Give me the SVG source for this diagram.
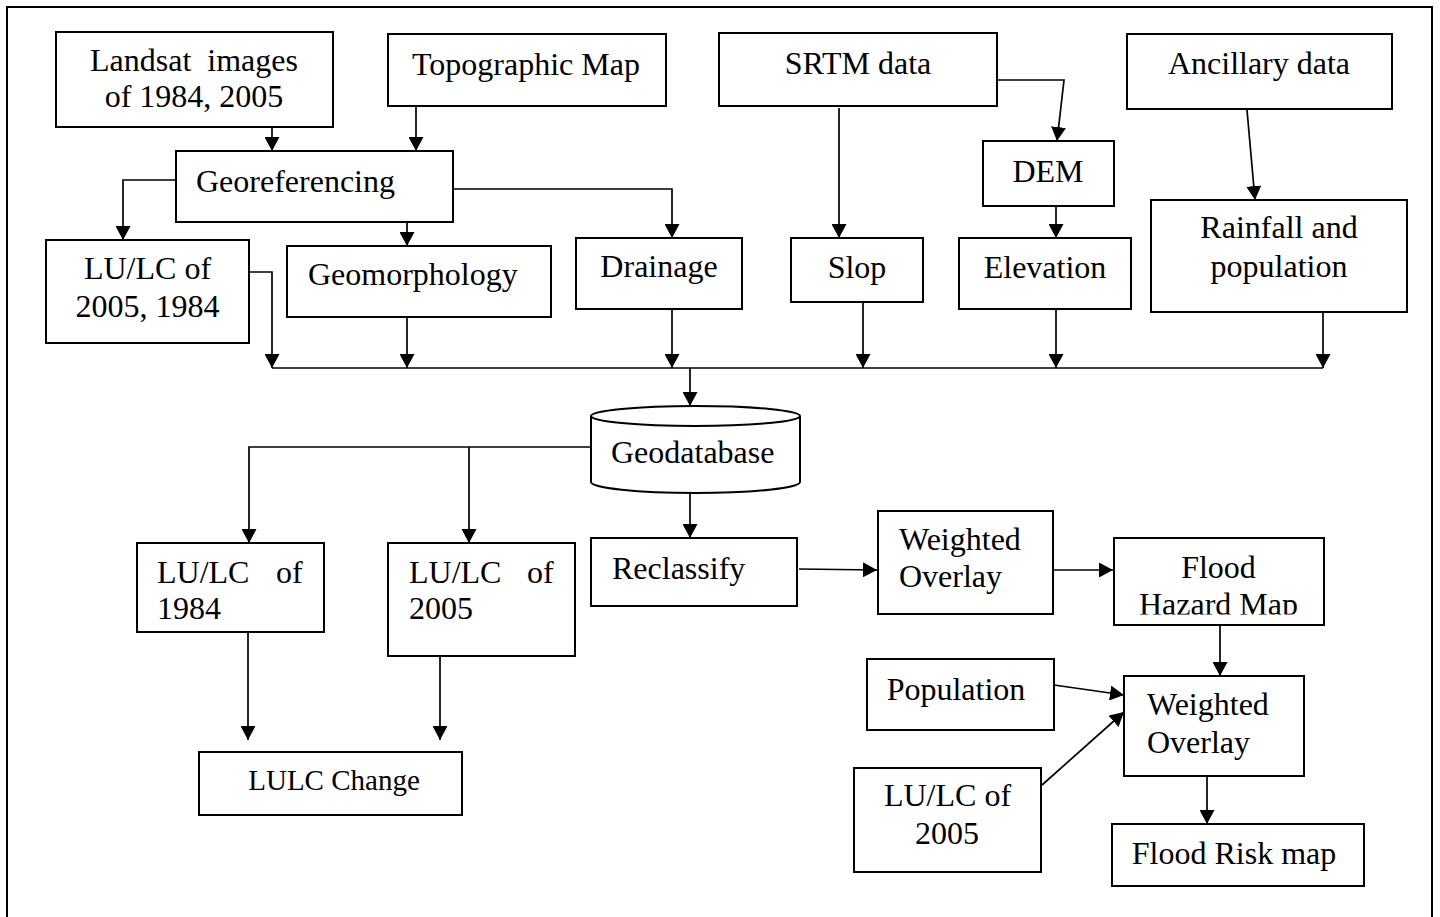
<svg xmlns="http://www.w3.org/2000/svg" width="1440" height="917" viewBox="0 0 1440 917">
<style>
.box{fill:#fff;stroke:#000;stroke-width:2}
.t{font-family:"Liberation Serif","Times New Roman",serif;font-size:32px;fill:#000}
.c{text-anchor:middle}
.ln{fill:none;stroke:#000;stroke-width:1.7}
.ar{marker-end:url(#ah)}
</style>
<defs>
<marker id="ah" markerUnits="userSpaceOnUse" markerWidth="14" markerHeight="15" viewBox="0 0 14 15" refX="14" refY="7.5" orient="auto">
<path d="M0,0 L14,7.5 L0,15 z" fill="#000"/>
</marker>
<clipPath id="fhmclip"><rect x="1114" y="538" width="210" height="76.5"/></clipPath>
</defs>
<rect x="0" y="0" width="1440" height="917" fill="#fff"/>
<path d="M7,917 V7 H1432 V917" fill="none" stroke="#000" stroke-width="2"/>

<g id="connectors">
<path class="ln ar" d="M272,127 V151"/>
<path class="ln ar" d="M416,103 V151"/>
<path class="ln ar" d="M176,180 H123 V240"/>
<path class="ln ar" d="M407,222 V246"/>
<path class="ln ar" d="M453,189 H672 V238"/>
<path class="ln ar" d="M839,108 V238"/>
<path class="ln ar" d="M992,80 H1064 L1057,141"/>
<path class="ln ar" d="M1056,206 V238"/>
<path class="ln ar" d="M1247,110 L1255,200"/>
<path class="ln ar" d="M247,272 H272 V368"/>
<path class="ln ar" d="M407,317 V368"/>
<path class="ln ar" d="M672,302 V368"/>
<path class="ln ar" d="M863,302 V368"/>
<path class="ln ar" d="M1056,302 V368"/>
<path class="ln ar" d="M1323,312 V368"/>
<path class="ln" d="M272,368 H1323"/>
<path class="ln ar" d="M690,368 V406"/>
<path class="ln ar" d="M595,447 H249 V543"/>
<path class="ln ar" d="M469,447 V543"/>
<path class="ln ar" d="M690,493 V538"/>
<path class="ln ar" d="M248,632 V740"/>
<path class="ln ar" d="M440,656 V740"/>
<path class="ln ar" d="M799,569 L877,570"/>
<path class="ln ar" d="M1053,570 H1113"/>
<path class="ln ar" d="M1220,625 V676"/>
<path class="ln ar" d="M1054,685 L1124,695"/>
<path class="ln ar" d="M1042,785 L1124,712"/>
<path class="ln ar" d="M1207,776 V824"/>
</g>

<g id="landsat">
<rect class="box" x="56" y="32" width="277" height="95"/>
<text class="t c" xml:space="preserve" x="194" y="71">Landsat  images</text>
<text class="t c" x="194" y="107">of 1984, 2005</text>
</g>
<g id="topo">
<rect class="box" x="388" y="34" width="278" height="72"/>
<text class="t c" x="526" y="75">Topographic Map</text>
</g>
<g id="srtm">
<rect class="box" x="719" y="33" width="278" height="73"/>
<text class="t c" x="858" y="74">SRTM data</text>
</g>
<g id="ancillary">
<rect class="box" x="1127" y="34" width="265" height="75"/>
<text class="t c" x="1259" y="74">Ancillary data</text>
</g>
<g id="georef">
<rect class="box" x="176" y="151" width="277" height="71"/>
<text class="t" x="196" y="192">Georeferencing</text>
</g>
<g id="dem">
<rect class="box" x="983" y="141" width="131" height="65"/>
<text class="t c" x="1048" y="182">DEM</text>
</g>
<g id="lulc-both">
<rect class="box" x="46" y="240" width="203" height="103"/>
<text class="t c" x="147.5" y="279">LU/LC of</text>
<text class="t c" x="147.5" y="317">2005, 1984</text>
</g>
<g id="geomorph">
<rect class="box" x="287" y="246" width="264" height="71"/>
<text class="t" x="308" y="285">Geomorphology</text>
</g>
<g id="drainage">
<rect class="box" x="576" y="238" width="166" height="71"/>
<text class="t c" x="659" y="277">Drainage</text>
</g>
<g id="slop">
<rect class="box" x="791" y="238" width="132" height="64"/>
<text class="t c" x="857" y="278">Slop</text>
</g>
<g id="elevation">
<rect class="box" x="959" y="238" width="172" height="71"/>
<text class="t c" x="1045" y="278">Elevation</text>
</g>
<g id="rainfall">
<rect class="box" x="1151" y="200" width="256" height="112"/>
<text class="t c" x="1279" y="238">Rainfall and</text>
<text class="t c" x="1279" y="277">population</text>
</g>
<g id="geodatabase">
<path class="box" d="M591,416 V482 A104.5,11 0 0 0 800,482 V416"/>
<ellipse class="box" cx="695.5" cy="416" rx="104.5" ry="10"/>
<text class="t" x="611" y="463">Geodatabase</text>
</g>
<g id="lulc1984">
<rect class="box" x="137" y="543" width="187" height="89"/>
<text class="t" y="583"><tspan x="157">LU/LC</tspan><tspan x="276">of</tspan></text>
<text class="t" x="157" y="619">1984</text>
</g>
<g id="lulc2005">
<rect class="box" x="388" y="543" width="187" height="113"/>
<text class="t" y="583"><tspan x="409">LU/LC</tspan><tspan x="527">of</tspan></text>
<text class="t" x="409" y="619">2005</text>
</g>
<g id="reclassify">
<rect class="box" x="591" y="538" width="206" height="68"/>
<text class="t" x="612" y="579">Reclassify</text>
</g>
<g id="wo1">
<rect class="box" x="878" y="511" width="175" height="103"/>
<text class="t" x="899" y="550">Weighted</text>
<text class="t" x="899" y="587">Overlay</text>
</g>
<g id="fhm">
<rect class="box" x="1114" y="538" width="210" height="87"/>
<text class="t c" x="1218.5" y="578">Flood</text>
<text class="t c" x="1218.5" y="615" clip-path="url(#fhmclip)">Hazard Map</text>
</g>
<g id="lulc-change">
<rect class="box" x="199" y="752" width="263" height="63"/>
<text class="t c" x="334" y="790" style="font-size:29px">LULC Change</text>
</g>
<g id="population">
<rect class="box" x="867" y="659" width="187" height="71"/>
<text class="t c" x="956" y="700">Population</text>
</g>
<g id="wo2">
<rect class="box" x="1124" y="676" width="180" height="100"/>
<text class="t" x="1147" y="715">Weighted</text>
<text class="t" x="1147" y="753">Overlay</text>
</g>
<g id="lulc2005b">
<rect class="box" x="854" y="768" width="187" height="104"/>
<text class="t c" x="947.5" y="806">LU/LC of</text>
<text class="t c" x="947" y="844">2005</text>
</g>
<g id="frm">
<rect class="box" x="1112" y="824" width="252" height="62"/>
<text class="t c" x="1234" y="864">Flood Risk map</text>
</g>
</svg>
